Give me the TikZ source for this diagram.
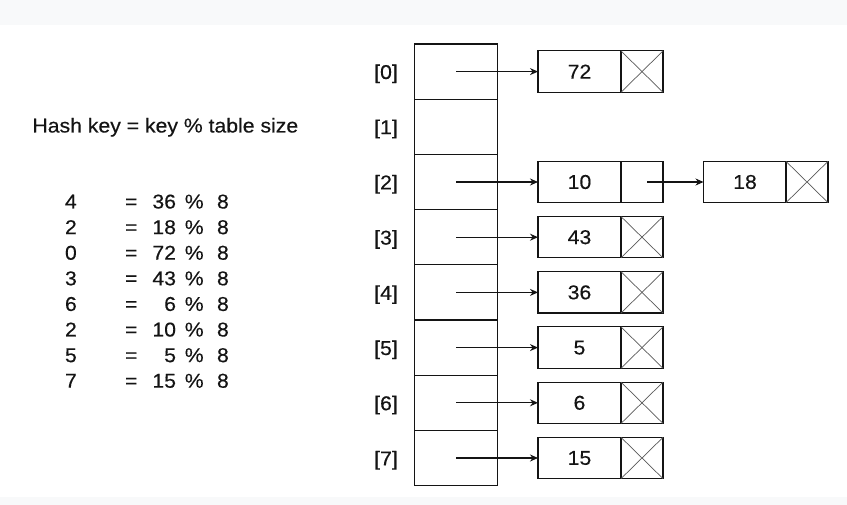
\documentclass[tikz,border=0pt]{standalone}
\usepackage{fontspec}
\setmainfont[FakeStretch=1.06,FakeBold=0.35]{Liberation Sans}
\usetikzlibrary{arrows.meta}
\definecolor{bandgray}{HTML}{F8F9FA}
\definecolor{ink}{HTML}{141414}
\begin{document}
\begin{tikzpicture}[x=1pt,y=-1pt,
  every node/.style={font=\fontsize{20}{22}\selectfont, text=ink, inner sep=0pt, outer sep=0pt},
  cell/.style={draw=ink, line width=1.1pt, minimum width=83pt, minimum height=55.2pt},
  databox/.style={draw=ink, line width=1.1pt, minimum width=83pt, minimum height=41.3pt},
  nullbox/.style={draw=ink, line width=1.1pt, minimum width=42pt, minimum height=41.3pt},
  ptr/.style={line width=1.2pt, draw=ink, -{Stealth[length=8pt,width=7pt]}},
  cross/.style={line width=0.7pt, draw=black!65},
  idx/.style={anchor=base},
  txt/.style={anchor=base west},
  txtr/.style={anchor=base east}]
\useasboundingbox (0,0) rectangle (847,505);
\fill[bandgray] (0,0) rectangle (847,25);
\fill[bandgray] (0,497) rectangle (847,505);

% title
\node[txt] (title) at (32.5,132.5) {Hash key = key \% table size};

% equations
\foreach \r/\k [count=\i from 0] in {4/36,2/18,0/72,3/43,6/6,2/10,5/5,7/15}{
  \pgfmathsetmacro{\yy}{208.5+\i*25.6}
  \node[txt]  (res\i) at (65,\yy) {\r};
  \node[txt]  (eq\i)  at (125,\yy) {=};
  \node[txtr] (key\i) at (176,\yy) {\k};
  \node[txt]  (mod\i) at (184.8,\yy) {\%};
  \node[txt]  (sz\i)  at (217,\yy) {8};
}

% table cells and indices
\foreach \i in {0,...,7}{
  \pgfmathsetmacro{\cy}{71.6+\i*55.2}
  \node[cell] (c\i) at (456,\cy) {};
  \node[idx] (l\i) at (386,\cy+7.4) {[\i]};
}

% chains
\foreach \i/\v in {0/72,3/43,4/36,5/5,6/6,7/15}{
  \pgfmathsetmacro{\cy}{71.6+\i*55.2}
  \node[databox] (d\i) at (579.5,\cy) {\v};
  \node[nullbox] (n\i) at (642,\cy) {};
  \draw[cross] (n\i.north west) -- (n\i.south east);
  \draw[cross] (n\i.south west) -- (n\i.north east);
  \draw[ptr] (c\i.center) -- (d\i.west);
}

% chain at index 2
\node[databox] (d2) at (579.5,182) {10};
\node[nullbox] (p2) at (642,182) {};
\node[databox] (e2) at (745,182) {18};
\node[nullbox] (n2) at (807,182) {};
\draw[cross] (n2.north west) -- (n2.south east);
\draw[cross] (n2.south west) -- (n2.north east);
\draw[ptr] (c2.center) -- (d2.west);
\draw[ptr] ([xshift=5pt]p2.center) -- (e2.west);
\end{tikzpicture}
\end{document}
